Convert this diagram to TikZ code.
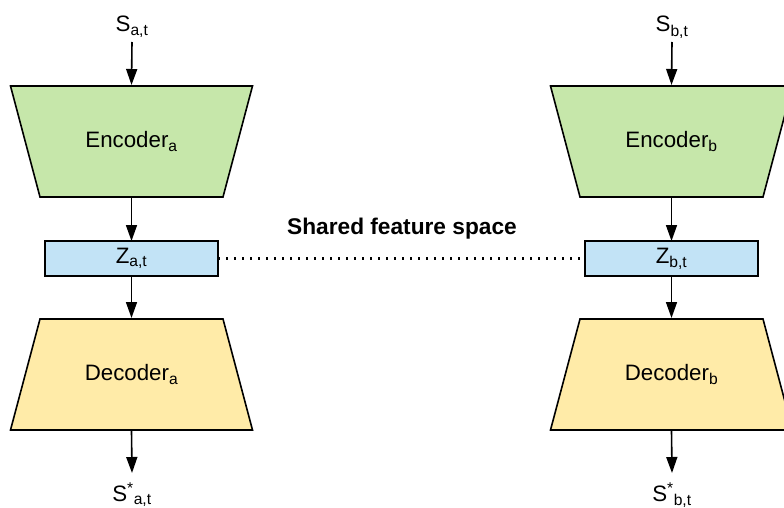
\documentclass[tikz,border=0pt]{standalone}
\usepackage{fontspec}
\setmainfont{Liberation Sans}
\usetikzlibrary{arrows.meta}
\definecolor{encfill}{RGB}{198,231,170}
\definecolor{zfill}{RGB}{194,227,246}
\definecolor{decfill}{RGB}{255,235,168}
\tikzset{
  lbl/.style={inner sep=0pt, outer sep=0pt},
  % frame of a trapezoid block; the slanted outline is drawn inside it
  trapframe/.style={rectangle, minimum width=244pt, minimum height=113pt,
    inner sep=0pt, outer sep=0pt},
  encbox/.style={trapframe, path picture={
    \draw[line width=1.6pt, fill=encfill]
      ([xshift=1pt,yshift=-1pt]path picture bounding box.north west) --
      ([xshift=-1pt,yshift=-1pt]path picture bounding box.north east) --
      ([xshift=-30.5pt,yshift=1pt]path picture bounding box.south east) --
      ([xshift=30.5pt,yshift=1pt]path picture bounding box.south west) -- cycle;}},
  decbox/.style={trapframe, path picture={
    \draw[line width=1.6pt, fill=decfill]
      ([xshift=30.5pt,yshift=-1pt]path picture bounding box.north west) --
      ([xshift=-30.5pt,yshift=-1pt]path picture bounding box.north east) --
      ([xshift=-1pt,yshift=1pt]path picture bounding box.south east) --
      ([xshift=1pt,yshift=1pt]path picture bounding box.south west) -- cycle;}},
  zbox/.style={draw, line width=1.6pt, fill=zfill, minimum width=173pt,
    minimum height=35pt, inner sep=0pt, outer sep=0pt},
  flow/.style={line width=1.6pt, -{Triangle[length=16pt, width=11pt]}},
  shared/.style={line width=2.2pt, dash pattern=on 2.2pt off 5.8pt}
}
\begin{document}
\begin{tikzpicture}[x=1pt, y=-1pt, font=\fontsize{22.3}{27}\selectfont]
\useasboundingbox (0,0) rectangle (784,508);

% left branch
\node[lbl, anchor=base] (sa) at (132,32) {S\textsubscript{a,t}};
\node[encbox] (enca) at (131.5,141.5) {Encoder\textsubscript{a}};
\node[zbox] (za) at (131.5,258.5) {Z\textsubscript{a,t}};
\node[decbox] (deca) at (131.5,374.5) {Decoder\textsubscript{a}};
\node[lbl, anchor=base] (oa) at (132,501) {S\textsuperscript{*}\textsubscript{a,t}};
\coordinate (sa0) at (132,42);
\coordinate (oa0) at (132,473);

% right branch
\node[lbl, anchor=base] (sb) at (672,32) {S\textsubscript{b,t}};
\node[encbox] (encb) at (671.5,141.5) {Encoder\textsubscript{b}};
\node[zbox] (zb) at (671.5,258.5) {Z\textsubscript{b,t}};
\node[decbox] (decb) at (671.5,374.5) {Decoder\textsubscript{b}};
\node[lbl, anchor=base] (ob) at (672,501) {S\textsuperscript{*}\textsubscript{b,t}};
\coordinate (sb0) at (672,42);
\coordinate (ob0) at (672,473);

% shared latent space
\node[lbl, font=\fontsize{22.7}{27}\selectfont\bfseries] (sfs) at (402,229) {Shared feature space};
\draw[shared] (za.east) -- (zb.west);

% data flow
\draw[flow] (sa0) -- (enca.north);
\draw[flow] (enca.south) -- (za.north);
\draw[flow] (za.south) -- (deca.north);
\draw[flow] (deca.south) -- (oa0);
\draw[flow] (sb0) -- (encb.north);
\draw[flow] (encb.south) -- (zb.north);
\draw[flow] (zb.south) -- (decb.north);
\draw[flow] (decb.south) -- (ob0);
\end{tikzpicture}
\end{document}
